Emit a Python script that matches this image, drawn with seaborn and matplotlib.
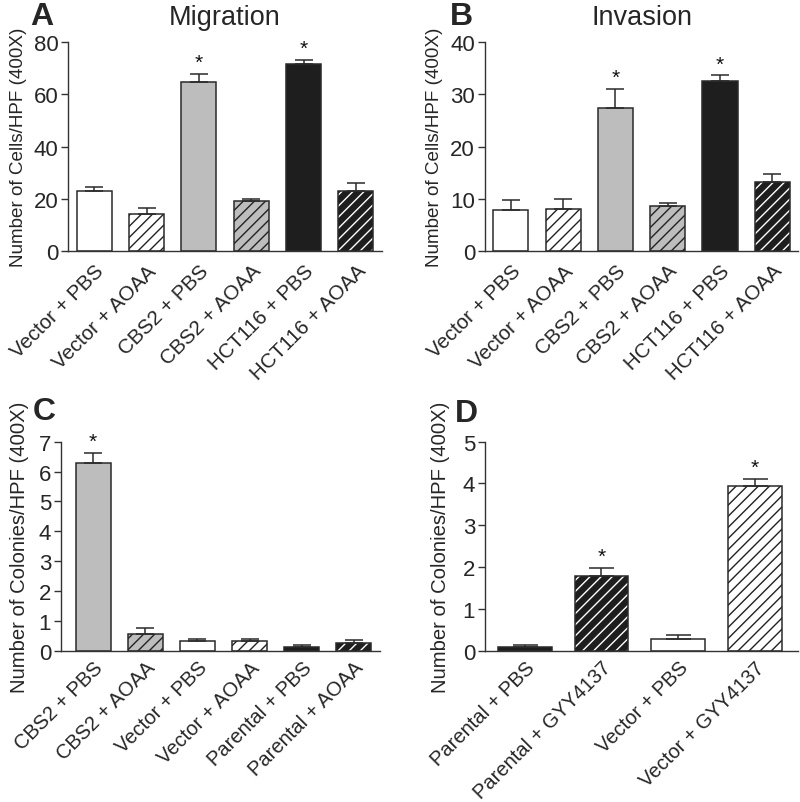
import matplotlib
matplotlib.use("Agg")
import matplotlib.pyplot as plt
from matplotlib.patches import Rectangle
import seaborn as sns

sns.set_theme(style="ticks")
plt.rcParams['font.family'] = ['Liberation Sans', 'DejaVu Sans']

# --- data ---
cats_ab = ['Vector + PBS', 'Vector + AOAA', 'CBS2 + PBS', 'CBS2 + AOAA', 'HCT116 + PBS', 'HCT116 + AOAA']
migration = [23.0, 14.3, 64.7, 19.0, 71.4, 23.0]
migration_err = [1.6, 2.3, 3.2, 1.0, 1.8, 3.0]
invasion = [7.85, 8.0, 27.3, 8.7, 32.5, 13.2]
invasion_err = [1.85, 1.9, 3.7, 0.5, 1.1, 1.5]
sig_ab = [False, False, True, False, True, False]

cats_c = ['CBS2 + PBS', 'CBS2 + AOAA', 'Vector + PBS', 'Vector + AOAA', 'Parental + PBS', 'Parental + AOAA']
colonies_c = [6.29, 0.57, 0.31, 0.31, 0.12, 0.25]
colonies_c_err = [0.34, 0.2, 0.09, 0.09, 0.08, 0.1]
sig_c = [True, False, False, False, False, False]

cats_d = ['Parental + PBS', 'Parental + GYY4137', 'Vector + PBS', 'Vector + GYY4137']
colonies_d = [0.08, 1.78, 0.27, 3.93]
colonies_d_err = [0.06, 0.2, 0.11, 0.18]
sig_d = [False, True, False, True]

# fill / hatch styles per group
WHITE, GRAY, BLACK = '#ffffff', '#bdbdbd', '#1e1e1e'
style = {
    'Vector + PBS': (WHITE, None),
    'Vector + AOAA': (WHITE, '#222222'),
    'CBS2 + PBS': (GRAY, None),
    'CBS2 + AOAA': (GRAY, '#222222'),
    'HCT116 + PBS': (BLACK, None),
    'HCT116 + AOAA': (BLACK, '#ffffff'),
    'Parental + PBS': (BLACK, None),
    'Parental + AOAA': (BLACK, '#ffffff'),
    'Parental + GYY4137': (BLACK, '#ffffff'),
    'Vector + GYY4137': (WHITE, '#222222'),
}
EDGE = '#2a2a2a'


def draw_panel(ax, cats, vals, errs, sig, ylim, yticks, ylabel, width, xlim, cap,
               ylab_size, ylab_pad=5, xlab_size=14.8, xlab_pad=7):
    colors = [style[c][0] for c in cats]
    sns.barplot(x=cats, y=vals, hue=cats, palette=colors, legend=False,
                width=width, edgecolor=EDGE, linewidth=1.1, saturation=1, ax=ax)
    for p, c in zip(ax.patches, cats):
        hcol = style[c][1]
        if hcol is not None:
            p.set_hatch('///')
            p.set_edgecolor(hcol)
            p.set_linewidth(0)
            ax.add_patch(Rectangle((p.get_x(), p.get_y()), p.get_width(), p.get_height(),
                                   fill=False, edgecolor=EDGE, linewidth=1.1, zorder=3))
    xs = range(len(cats))
    ax.errorbar(xs, vals, yerr=[[0] * len(errs), errs], fmt='none', ecolor=EDGE,
                elinewidth=1.1, capsize=cap, capthick=1.1, zorder=1)
    top = ylim[1]
    for x, v, e, s in zip(xs, vals, errs, sig):
        if s:
            ax.text(x, v + e + top * 0.01, '*', ha='center', va='bottom', fontsize=15, color='#111')
    ax.set_ylim(*ylim)
    ax.set_xlim(*xlim)
    ax.set_yticks(yticks)
    ax.set_ylabel(ylabel, fontsize=ylab_size, labelpad=ylab_pad)
    ax.set_xticks(list(xs))
    ax.set_xticklabels(cats, rotation=45, ha='right', rotation_mode='anchor', fontsize=xlab_size)
    ax.tick_params(axis='x', length=0, pad=xlab_pad)
    ax.tick_params(axis='y', labelsize=16, length=5, width=1, color='#333', pad=2)
    for s in ['top', 'right']:
        ax.spines[s].set_visible(False)
    for s in ['left', 'bottom']:
        ax.spines[s].set_color('#333')
        ax.spines[s].set_linewidth(1)


fig = plt.figure(figsize=(8, 8.03), dpi=100)
ax_a = fig.add_axes([0.085, 0.686, 0.3925, 0.2605])
ax_b = fig.add_axes([0.606, 0.686, 0.392, 0.2605])
ax_c = fig.add_axes([0.076, 0.1884, 0.399, 0.2603])
ax_d = fig.add_axes([0.606, 0.1884, 0.392, 0.2603])

draw_panel(ax_a, cats_ab, migration, migration_err, sig_ab, (0, 80), [0, 20, 40, 60, 80],
           'Number of Cells/HPF (400X)', 0.67, (-0.5, 5.5), 6.5, 13.6)
draw_panel(ax_b, cats_ab, invasion, invasion_err, sig_ab, (0, 40), [0, 10, 20, 30, 40],
           'Number of Cells/HPF (400X)', 0.67, (-0.5, 5.5), 6.5, 13.6)
draw_panel(ax_c, cats_c, colonies_c, colonies_c_err, sig_c, (0, 7), range(0, 8),
           'Number of Colonies/HPF (400X)', 0.67, (-0.62, 5.5), 6.5, 14.6,
           ylab_pad=7, xlab_size=14.5, xlab_pad=5)
draw_panel(ax_d, cats_d, colonies_d, colonies_d_err, sig_d, (0, 5), range(0, 6),
           'Number of Colonies/HPF (400X)', 0.7, (-0.52, 3.57), 9, 14.6,
           ylab_pad=9, xlab_size=14.5, xlab_pad=5)

ax_a.set_title('Migration', fontsize=19.5, pad=13)
ax_b.set_title('Invasion', fontsize=19.5, pad=13)

fig.text(0.038, 1 - 25 / 803, 'A', fontsize=23, fontweight='bold', va='baseline')
fig.text(0.562, 1 - 25 / 803, 'B', fontsize=23, fontweight='bold', va='baseline')
fig.text(0.041, 1 - 420 / 803, 'C', fontsize=23, fontweight='bold', va='baseline')
fig.text(0.568, 1 - 422 / 803, 'D', fontsize=23, fontweight='bold', va='baseline')

fig.savefig('out.png', dpi=100, facecolor='white')
